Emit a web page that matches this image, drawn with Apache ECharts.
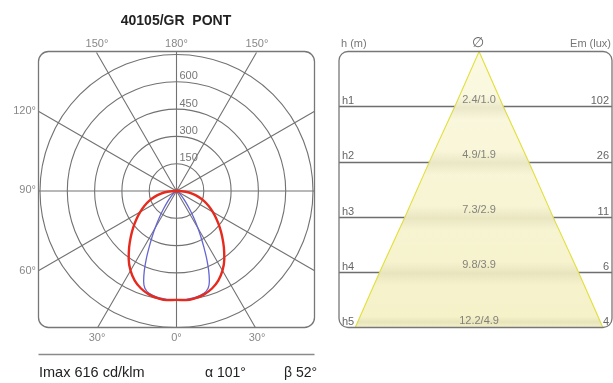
<!DOCTYPE html>
<html><head><meta charset="utf-8">
<script src="https://cdn.jsdelivr.net/npm/echarts@6/dist/echarts.min.js"></script>
<style>html,body{margin:0;padding:0;background:#fff}#c{width:613px;height:383px}</style>
</head><body><div id="c"></div>
<script>
// ---------- data ----------
const chartTitle = '40105/GR  PONT';
// polar diagram (angle from nadir, cd/klm), symmetric planes
const redAngles    = [0, 5, 10, 15, 20, 25, 30, 35, 40, 45, 50, 55, 60, 65, 70, 75, 80, 85, 90];
const redValues    = [598, 602, 598, 588, 570, 543, 505, 458, 405, 355, 310, 268, 230, 195, 160, 125, 90, 50, 0];
const blueAngles   = [0, 5, 10, 15, 18, 20, 22, 24, 26, 28, 30, 33, 36, 40, 45, 50, 60, 70, 80, 90];
const blueValues   = [598, 598, 594, 582, 562, 528, 472, 408, 342, 286, 236, 172, 122, 76, 42, 22, 8, 3, 1, 0];
const ringMax = 750, ringStep = 150;
const topAngleLabels    = ['150°', '180°', '150°'];
const sideAngleLabels   = ['120°', '90°', '60°'];
const bottomAngleLabels = ['30°', '0°', '30°'];
const footerImax  = 'Imax 616 cd/klm';
const footerAlpha = 'α 101°';
const footerBeta  = 'β 52°';
// cone diagram
const heights = [1, 2, 3, 4, 5];
const hLabels = ['h1', 'h2', 'h3', 'h4', 'h5'];
const diaAlpha = [2.4, 4.9, 7.3, 9.8, 12.2];
const diaBeta  = [1.0, 1.9, 2.9, 3.9, 4.9];
const emLux    = [102, 26, 11, 6, 4];
const coneHeaders = ['h (m)', '∅', 'Em (lux)'];

// ---------- chart ----------
const FONT = '"Liberation Sans", Arial, sans-serif';
const GRID = '#727272';
const chart = echarts.init(document.getElementById('c'), null, {renderer: 'canvas'});

// angle convention of the polar: 0 at top, clockwise; nadir = 180
function mirror(angles, vals) {
  const out = [];
  for (let i = angles.length - 1; i >= 0; i--) out.push([vals[i], 180 + angles[i]]);
  for (let i = 1; i < angles.length; i++) out.push([vals[i], 180 - angles[i]]);
  return out;
}

const cx = 176.5, cy = 191;
const txt = (x, y, text, opt) => Object.assign({
  type: 'text', x: x, y: y, z: 120,
  style: Object.assign({text: text, fill: '#888', font: '11px ' + FONT, align: 'center', verticalAlign: 'middle'}, opt || {})
});

const graphics = [
  // masks trimming the spokes to the box
  {type: 'rect', z: 50, shape: {x: 0, y: 0, width: 338, height: 51}, style: {fill: '#fff'}},
  {type: 'rect', z: 50, shape: {x: 0, y: 0, width: 38, height: 383}, style: {fill: '#fff'}},
  {type: 'rect', z: 50, shape: {x: 315, y: 0, width: 23, height: 383}, style: {fill: '#fff'}},
  {type: 'rect', z: 50, shape: {x: 0, y: 328, width: 338, height: 55}, style: {fill: '#fff'}},
  // boxes
  {type: 'rect', z: 100, shape: {x: 38.5, y: 51.5, width: 276, height: 276, r: 10}, style: {fill: 'none', stroke: '#777', lineWidth: 1.3}},
  {type: 'rect', z: 100, shape: {x: 339, y: 51.5, width: 273, height: 276, r: 9}, style: {fill: 'none', stroke: '#777', lineWidth: 1.3}},
  // footer line
  {type: 'line', z: 100, shape: {x1: 38.5, y1: 354.5, x2: 314.5, y2: 354.5}, style: {stroke: '#8a8a8a', lineWidth: 1.5}},
  txt(176, 21, chartTitle, {fill: '#222', font: 'bold 14px ' + FONT}),
  txt(39, 373, footerImax, {fill: '#222', font: '14.5px ' + FONT, align: 'left'}),
  txt(205, 373, footerAlpha, {fill: '#222', font: '14px ' + FONT, align: 'left'}),
  txt(284, 373, footerBeta, {fill: '#222', font: '14px ' + FONT, align: 'left'}),
  txt(97, 44, topAngleLabels[0]), txt(176.5, 44, topAngleLabels[1]), txt(257, 44, topAngleLabels[2]),
  txt(36, 111, sideAngleLabels[0], {align: 'right'}), txt(36, 190, sideAngleLabels[1], {align: 'right'}), txt(36, 271, sideAngleLabels[2], {align: 'right'}),
  txt(97, 338, bottomAngleLabels[0]), txt(176.5, 338, bottomAngleLabels[1]), txt(257, 338, bottomAngleLabels[2]),
  txt(341, 44, coneHeaders[0], {fill: '#777', align: 'left'}),
  txt(478, 43, coneHeaders[1], {fill: '#666', font: '14px ' + FONT}),
  txt(611, 44, coneHeaders[2], {fill: '#777', align: 'right'})
];

const slope = diaAlpha[diaAlpha.length - 1] / 2 / heights[heights.length - 1];
const hMax = heights[heights.length - 1];

const option = {
  animation: false,
  backgroundColor: '#fff',
  polar: [
    {center: [cx, cy], radius: 160},
    {center: [cx, cy], radius: 136.5}
  ],
  angleAxis: [
    {polarIndex: 0, type: 'value', min: 0, max: 360, interval: 30, startAngle: 90,
     axisLine: {show: false}, axisTick: {show: false}, axisLabel: {show: false},
     splitLine: {show: true, lineStyle: {color: GRID, width: 1.1}}},
    {polarIndex: 1, type: 'value', min: 0, max: 360, interval: 30, startAngle: 90,
     axisLine: {show: false}, axisTick: {show: false}, axisLabel: {show: false}, splitLine: {show: false}}
  ],
  radiusAxis: [
    {polarIndex: 0, type: 'value', min: 0, max: 1, axisLine: {show: false}, axisTick: {show: false}, axisLabel: {show: false}, splitLine: {show: false}},
    {polarIndex: 1, type: 'value', min: 0, max: ringMax, interval: ringStep,
     axisLine: {show: false}, axisTick: {show: false},
     splitLine: {show: true, lineStyle: {color: GRID, width: 1.1}},
     axisLabel: {show: true, margin: -3, align: 'left', verticalAlign: 'bottom', color: '#777', fontSize: 11, fontFamily: FONT,
       formatter: v => (v === 0 || v === ringMax) ? '' : String(v)}}
  ],
  grid: {left: 339, right: 1, top: 51.5, bottom: 55.5, containLabel: false, outerBoundsMode: 'none'},
  xAxis: {type: 'value', min: -6.9, max: 6.55, show: false},
  yAxis: [
    {type: 'value', inverse: true, min: 0, max: hMax, interval: 1, position: 'left',
     axisLine: {show: false}, axisTick: {show: false}, splitLine: {show: false},
     axisLabel: {inside: true, margin: 3, align: 'left', verticalAlign: 'bottom', color: '#666', fontSize: 11, fontFamily: FONT,
       showMinLabel: true, showMaxLabel: true,
       formatter: v => { const i = heights.indexOf(v); return i < 0 ? '' : hLabels[i]; }}},
    {type: 'value', inverse: true, min: 0, max: hMax, interval: 1, position: 'right',
     axisLine: {show: false}, axisTick: {show: false}, splitLine: {show: false},
     axisLabel: {inside: true, margin: 3, align: 'right', verticalAlign: 'bottom', color: '#666', fontSize: 11, fontFamily: FONT,
       showMinLabel: true, showMaxLabel: true,
       formatter: v => { const i = heights.indexOf(v); return i < 0 ? '' : String(emLux[i]); }}}
  ],
  series: [
    {name: 'C90-C270', type: 'line', coordinateSystem: 'polar', polarIndex: 1, z: 3,
     data: mirror(blueAngles, blueValues), smooth: 0.3, symbol: 'none',
     lineStyle: {color: '#6565d2', width: 1.3}},
    {name: 'C0-C180', type: 'line', coordinateSystem: 'polar', polarIndex: 1, z: 4,
     data: mirror(redAngles, redValues), smooth: 0.4, symbol: 'none',
     lineStyle: {color: '#e62a1e', width: 2.4}},
    {name: 'levels', type: 'line', xAxisIndex: 0, yAxisIndex: 0, z: 1, data: [], symbol: 'none',
     markLine: {silent: true, symbol: 'none', z: 1, label: {show: false},
       lineStyle: {color: '#6e6e6e', width: 1.3, type: 'solid'},
       data: heights.slice(0, -1).map(h => ({yAxis: h}))}},
    {name: 'cone', type: 'custom', xAxisIndex: 0, yAxisIndex: 0, z: 2, silent: true,
     data: [[0, 0]],
     renderItem: (params, api) => {
       const pts = [api.coord([0, 0])];
       for (let i = 0; i < heights.length; i++) pts.push(api.coord([diaAlpha[i] / 2, heights[i]]));
       for (let i = heights.length - 1; i >= 0; i--) pts.push(api.coord([-diaAlpha[i] / 2, heights[i]]));
       return {type: 'polygon', shape: {points: pts}, style: {
         fill: new echarts.graphic.LinearGradient(0, 0, 0, 1, [
           {offset: 0, color: '#fbf9e2'}, {offset: 1, color: '#f5f1c8'}]),
         stroke: '#e2e03a', lineWidth: 1.1}};
     }},
    {name: 'bands', type: 'custom', xAxisIndex: 0, yAxisIndex: 0, z: 3, silent: true,
     data: heights.map((h, i) => [diaAlpha[i] / 2, h]),
     renderItem: (params, api) => {
       const h = api.value(1);
       const y0 = h - 0.2, y1 = Math.min(h + 0.24, hMax);
       const pts = [api.coord([-slope * y0, y0]), api.coord([slope * y0, y0]), api.coord([slope * y1, y1]), api.coord([-slope * y1, y1])];
       return {type: 'polygon', shape: {points: pts}, style: {
         fill: new echarts.graphic.LinearGradient(0, 0, 0, 1, [
           {offset: 0, color: 'rgba(200,196,160,0)'},
           {offset: 0.5, color: 'rgba(196,192,150,0.28)'},
           {offset: 1, color: 'rgba(200,196,160,0)'}])}};
     }},
    {name: 'diameters', type: 'scatter', xAxisIndex: 0, yAxisIndex: 0, z: 5, silent: true,
     data: heights.map(h => [0, h]), symbolSize: 1, itemStyle: {color: 'rgba(0,0,0,0)'},
     label: {show: true, position: 'top', distance: 1, color: '#666', fontSize: 11, fontFamily: FONT,
       formatter: p => diaAlpha[p.dataIndex].toFixed(1) + '/' + diaBeta[p.dataIndex].toFixed(1)}}
  ],
  graphic: graphics
};
chart.setOption(option);
</script>
</body></html>
